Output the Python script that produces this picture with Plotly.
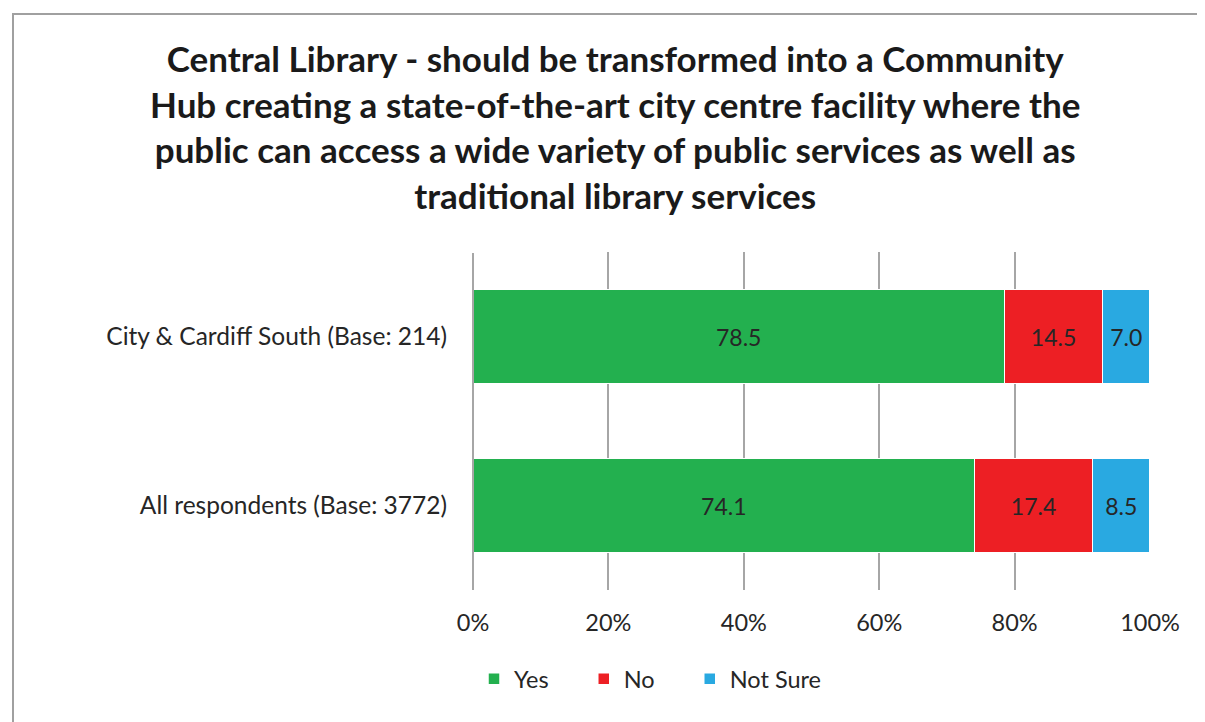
import plotly.graph_objects as go

categories = ["All respondents (Base: 3772)", "City & Cardiff South (Base: 214)"]
yes_vals = [74.1, 78.5]
no_vals = [17.4, 14.5]
notsure_vals = [8.5, 7.0]
x_ticks = [0, 20, 40, 60, 80, 100]
x_ticklabels = ["0%", "20%", "40%", "60%", "80%", "100%"]

PAD = "&nbsp;" * 5
series = [
    ("Yes", "Yes" + PAD, yes_vals, "#23B04F"),
    ("No", "No" + PAD, no_vals, "#ED1F24"),
    ("Not Sure", "Not Sure", notsure_vals, "#29A9E1"),
]

FONT = "Lato, Carlito, sans-serif"
TXT = "#262626"

fig = go.Figure()
for name, legend_name, vals, color in series:
    fig.add_trace(go.Bar(
        y=categories, x=vals, name=legend_name, orientation="h",
        marker=dict(color=color, line=dict(color="white", width=1.5)),
        text=[f"{v:.1f}" for v in vals], textposition="inside",
        insidetextanchor="middle", constraintext="none",
        textfont=dict(family=FONT, size=23, color=TXT),
        hoverinfo="skip",
    ))

# page has an 8px body margin; work in reference-pixel coordinates
OFF = 8
W, H = 1205 - OFF, 722 - OFF
l, r, t, b = 473 - OFF, 1205 - 1150, 252 - OFF, 722 - 590
pw, ph = W - l - r, H - t - b

def px_x(p):
    return (p - OFF - l) / pw

def px_y(p):
    return (H - b - (p - OFF)) / ph

title_text = ("<b>Central Library - should be transformed into a Community<br>"
              "Hub creating a state-of-the-art city centre facility where the<br>"
              "public can access a wide variety of public services as well as<br>"
              "traditional library services</b>")

fig.update_layout(
    width=W, height=H,
    barmode="stack", bargap=0.444,
    margin=dict(l=l, r=r, t=t, b=b),
    paper_bgcolor="white", plot_bgcolor="white",
    font=dict(family=FONT, color=TXT),
    xaxis=dict(
        range=[0, 100], tickvals=x_ticks, ticktext=x_ticklabels,
        showgrid=True, gridcolor="#A6A6A6", gridwidth=1.5,
        zeroline=False, showline=False,
        tickfont=dict(size=23.5, color=TXT), ticks="", ticklabelstandoff=16,
    ),
    yaxis=dict(
        categoryorder="array", categoryarray=categories,
        range=[-0.5, 1.5],
        showgrid=False, zeroline=False, showline=False,
        tickfont=dict(size=24.5, color=TXT), ticks="", ticklabelstandoff=25,
    ),
    legend=dict(
        orientation="h", x=px_x(650), xanchor="center", y=px_y(679), yanchor="middle",
        font=dict(size=23.5, color=TXT), traceorder="normal",
    ),
    showlegend=True,
    annotations=[dict(
        text=title_text, xref="paper", yref="paper",
        x=px_x(615), y=px_y(126), xanchor="center", yanchor="middle",
        showarrow=False, align="center",
        font=dict(family=FONT, size=35, color="#1a1a1a"),
    )],
    shapes=[
        dict(type="line", xref="paper", yref="paper", x0=0, x1=0, y0=px_y(590), y1=px_y(253),
             line=dict(color="#A6A6A6", width=2), layer="above"),
        dict(type="rect", xref="paper", yref="paper",
             x0=px_x(13), x1=px_x(1300), y0=px_y(900), y1=px_y(14),
             line=dict(color="#A0A0A0", width=2), layer="below"),
    ],
)

fig.write_html("out.html")
